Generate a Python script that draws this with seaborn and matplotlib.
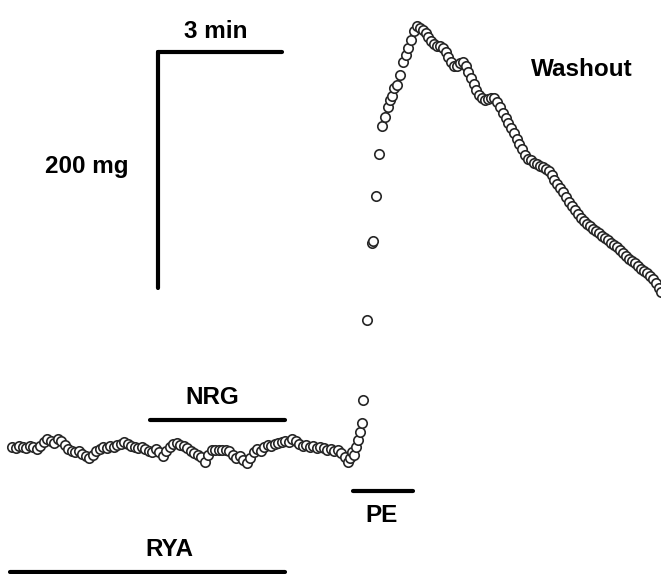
import numpy as np
import pandas as pd
import matplotlib
matplotlib.use("Agg")
import matplotlib.pyplot as plt
import seaborn as sns

# Trace (x = time position, y = trace position, image units)
base_x = [12, 15.5, 19, 22.5, 26, 29.5, 33, 36.5, 40, 43.5, 47, 50.5, 54, 57.5, 61, 64.5,
          68, 71.5, 75, 78.5, 82, 85.5, 89, 92.5, 96, 99.5, 103, 106.5, 110, 113.5, 117,
          120.5, 124, 127.5, 131, 134.5, 138, 141.5, 145, 148.5, 152, 155.5, 159, 162.5,
          166, 169.5, 173, 176.5, 180, 183.5, 187, 190.5, 194, 197.5, 201, 204.5, 208,
          211.5, 215, 218.5, 222, 225.5, 229, 232.5, 236, 239.5, 243, 246.5, 250, 253.5,
          257, 260.5, 264, 267.5, 271, 274.5, 278, 281.5, 285, 288.5, 292, 295.5, 299,
          302.5, 306, 309.5, 313, 316.5, 320, 323.5, 327, 330.5, 334, 337.5, 341, 344.5,
          347.5, 350, 352]
base_y = [447, 448, 446, 447, 448, 446, 447, 449, 446, 442, 439, 441, 443, 439, 441, 445,
          449, 451, 452, 451, 454, 456, 458, 455, 451, 449, 447, 448, 446, 447, 445,
          444, 442, 444, 446, 447, 448, 447, 449, 451, 452, 449, 452, 456,
          451, 447, 444, 443, 445, 446, 448, 451, 453, 455, 457, 462, 455,
          450, 450, 450, 450, 450, 451, 455, 458, 456, 460, 463, 458, 452,
          449, 451, 447, 445, 446, 444, 443, 442, 441, 442, 439, 441, 444,
          446, 445, 447, 446, 448, 447, 448, 450, 449, 451, 450, 453, 457,
          462, 458, 452]

rise_x = [354, 356, 357.5, 360, 362, 363, 367, 372, 373, 376, 379, 382, 385, 388, 390,
          392, 394, 397, 400, 403, 406, 408, 411, 414]
rise_y = [455, 447, 440, 432, 423, 400, 320, 243, 241, 196, 154, 126, 117, 107, 100,
          96, 88, 85, 75, 62, 55, 48, 40, 31]

wash_x = [417, 420, 423, 426, 428, 431, 434, 437, 440, 443, 446, 448, 451, 454, 457, 460,
          463, 466, 468, 471, 474, 476, 479, 482, 485, 488, 491, 494, 497, 500, 503, 506,
          508, 511, 514, 517, 519, 522, 525, 528, 531, 534, 537, 540, 543, 546, 549, 552,
          554, 557, 560, 563, 566, 569, 572, 575, 578, 581, 584, 587, 590, 593, 596, 599,
          602, 605, 608, 611, 614, 617, 620, 623, 626, 629, 632, 635, 638, 641, 644, 647,
          650, 653, 656, 659, 661]
wash_y = [26, 28, 30, 33, 37, 41, 44, 46, 46, 48, 52, 57, 62, 66, 66, 63,
          62, 66, 72, 78, 84, 90, 95, 98, 100, 99, 98, 98, 102, 107, 113, 118,
          123, 128, 133, 139, 144, 149, 155, 159, 160, 163, 164, 166, 167, 169, 171, 175,
          180, 184, 188, 192, 197, 202, 206, 210, 214, 218, 221, 224, 226, 229, 231, 233,
          236, 238, 240, 243, 245, 247, 250, 253, 256, 259, 261, 263, 266, 269, 271, 273,
          276, 279, 283, 288, 292]

# Scale bars and treatment bars
bar_names = ["scale_t", "scale_f", "NRG", "PE", "RYA"]
bar_x = [(158, 282), (158, 158), (150, 285), (353, 413), (10, 285)]
bar_y = [(52, 52), (52, 288), (420, 420), (491, 491), (572, 572)]

labels = ["3 min", "200 mg", "NRG", "PE", "RYA", "Washout"]
label_x = [216, 87, 212, 382, 169, 582]
label_y = [31, 166, 398, 515, 550, 69]

trace = pd.DataFrame({
    "x": base_x + rise_x + wash_x,
    "y": base_y + rise_y + wash_y,
})

sns.set_style("white")
plt.rcParams["font.family"] = ["Liberation Sans", "DejaVu Sans"]

fig = plt.figure(figsize=(6.61, 5.74), dpi=100)
ax = fig.add_axes([0, 0, 1, 1])

sns.scatterplot(data=trace, x="x", y="y", ax=ax, marker="o", s=46,
                facecolor="white", edgecolor="#262626", linewidth=1.2, zorder=3)

for bx, by in zip(bar_x, bar_y):
    ax.plot(bx, by, color="black", lw=3, solid_capstyle="round", zorder=2)

for txt, tx, ty in zip(labels, label_x, label_y):
    ax.text(tx, ty, txt, ha="center", va="center", fontsize=17.5,
            fontweight="bold", color="black")

ax.set_xlim(0, 661)
ax.set_ylim(574, 0)
ax.axis("off")

fig.savefig("out.png", dpi=100)
